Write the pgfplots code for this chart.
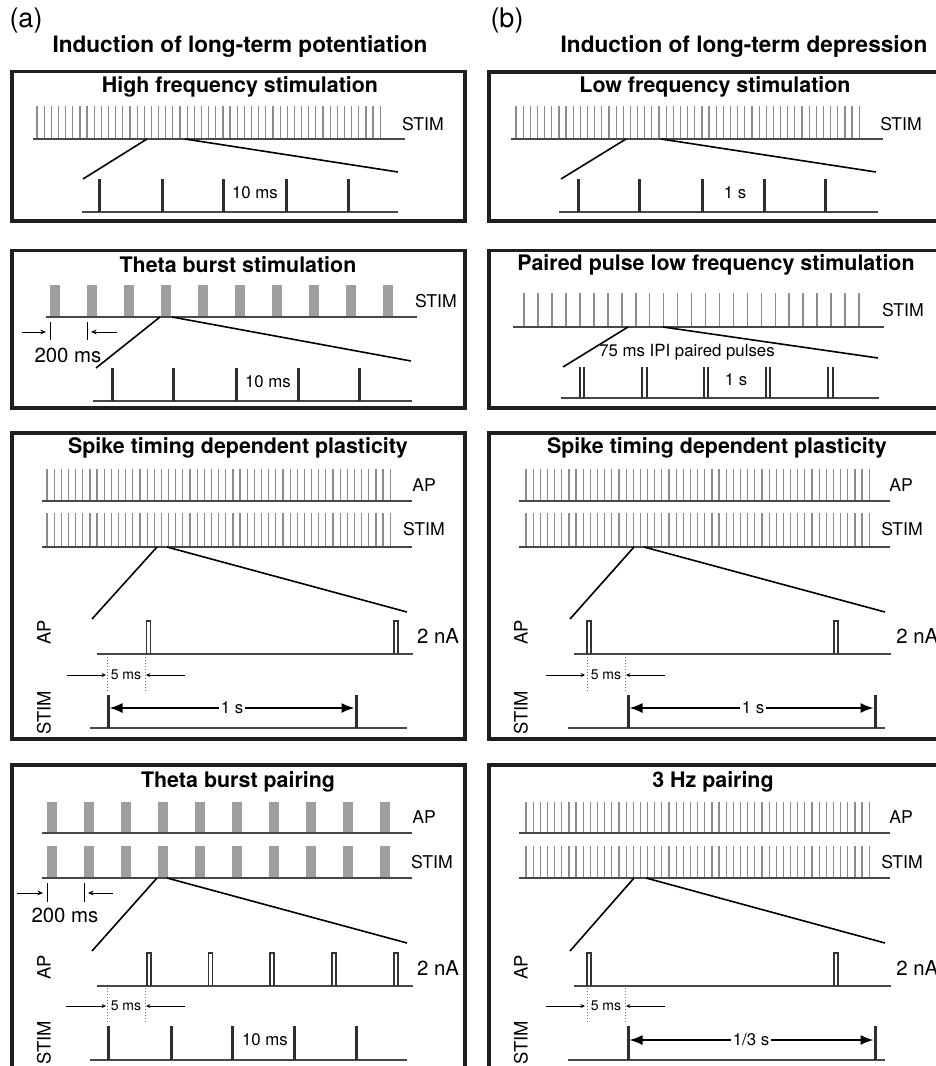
\documentclass[border=0pt]{standalone}
\usepackage{pgfplots}
\pgfplotsset{compat=1.18}
\usepackage{pgfplotstable}
\usepackage{fontspec}
\setmainfont{TeX Gyre Heros}
\usetikzlibrary{arrows.meta}

% regular pulse train (positions relative to train start, px)
\pgfplotstableread[row sep=\\]{x d\\0 0\\7.15 0\\14.3 0\\21.45 0\\28.6 0\\35.75 0\\42.9 0\\50.05 0\\57.2 0\\64.35 0\\71.5 0\\78.65 0\\85.8 0\\92.95 0\\100.1 0\\107.25 0\\114.4 0\\121.55 0\\128.7 0\\135.85 0\\143 0\\150.15 0\\157.3 0\\164.45 0\\171.6 0\\178.75 0\\185.9 0\\193.05 0\\200.2 0\\207.35 0\\214.5 0\\221.65 0\\228.8 0\\235.95 0\\243.1 0\\250.25 0\\257.4 0\\264.55 0\\271.7 0\\278.85 0\\286 0\\293.15 0\\300.3 0\\307.45 0\\314.6 0\\321.75 0\\328.9 0\\336.05 0\\343.2 0\\}\hf
% theta bursts (4 pulses per burst)
\pgfplotstableread[row sep=\\]{x d\\51.5 0\\54 0\\56.5 0\\59 0\\88.5 0\\91 0\\93.5 0\\96 0\\125.5 0\\128 0\\130.5 0\\133 0\\162.5 0\\165 0\\167.5 0\\170 0\\199.5 0\\202 0\\204.5 0\\207 0\\236.5 0\\239 0\\241.5 0\\244 0\\273.5 0\\276 0\\278.5 0\\281 0\\310.5 0\\313 0\\315.5 0\\318 0\\347.5 0\\350 0\\352.5 0\\355 0\\384.5 0\\387 0\\389.5 0\\392 0\\}\tb
% paired pulse low frequency train
\pgfplotstableread[row sep=\\]{x d\\524 0\\538 0\\551.9 0\\565.9 0\\579.8 0\\593.8 0\\607.8 0\\621.7 0\\635.7 0\\649.6 0\\663.6 0\\677.5 0\\691.5 0\\705.5 0\\719.4 0\\733.4 0\\747.3 0\\761.3 0\\775.3 0\\789.2 0\\803.2 0\\817.1 0\\831.1 0\\845 0\\859 0\\}\pp

\pgfplotsset{
  trn/.style={quiver={u=0,v=#1}, mark=none, color=black!45, line width=0.6pt},
  brst/.style={quiver={u=0,v=#1}, mark=none, color=black!38, line width=1.05pt},
  pls/.style={quiver={u=0,v=#1}, mark=none, color=black!82, line width=1.5pt},
  vln/.style={quiver={u=0,v=#1}, mark=none, color=black, line width=0.5pt},
  base/.style={mark=none, color=black!72, line width=0.85pt},
  zl/.style={mark=none, color=black, line width=0.8pt},
  box/.style={mark=none, color=black!88, line width=1.8pt, line join=miter},
  rct/.style={mark=none, color=black!80, line width=0.6pt, unbounded coords=jump},
  dots/.style={mark=none, color=black!55, line width=0.5pt, densely dotted, unbounded coords=jump},
  sar/.style={mark=none, color=black, line width=0.5pt, -{Stealth[length=2.8pt,width=2.4pt]}},
  ssar/.style={mark=none, color=black, line width=0.45pt, -{Stealth[length=2.2pt,width=2pt]}},
  dar/.style={mark=none, color=black, line width=0.8pt, {Latex[length=6.5pt,width=5pt]}-{Latex[length=6.5pt,width=5pt]}},
}
\tikzset{
  hdr/.style={font=\fontsize{11.3}{13}\selectfont\bfseries},
  ttl/.style={font=\fontsize{10.7}{12}\selectfont\bfseries},
  lbl/.style={font=\fontsize{8.8}{10}\selectfont},
  mid/.style={font=\fontsize{8.4}{10}\selectfont},
  vl/.style={font=\fontsize{9.2}{10}\selectfont, rotate=90},
  big/.style={font=\fontsize{10.2}{12}\selectfont},
  sml/.style={font=\fontsize{7}{8}\selectfont},
  pan/.style={font=\fontsize{13.5}{15}\selectfont},
}

\begin{document}
\begin{tikzpicture}
\begin{axis}[name=ax, scale only axis, width=468pt, height=533pt,
  xmin=0, xmax=936, ymin=0, ymax=1066, y dir=reverse, hide axis]

% ---------- headers ----------
\node[pan] at (26,21) {(a)};
\node[pan] at (507,21) {(b)};
\node[hdr] at (240,47) {Induction of long-term potentiation};
\node[hdr] at (744,47) {Induction of long-term depression};

% ---------- boxes ----------
\addplot[box] coordinates {(240,71.5)(465,71.5)(465,221)(12,221)(12,71.5)(240,71.5)};
\addplot[box] coordinates {(700,72)(950,72)(950,221)(489,221)(489,72)(700,72)};
\addplot[box] coordinates {(240,250.5)(465,250.5)(465,408)(12,408)(12,250.5)(240,250.5)};
\addplot[box] coordinates {(700,250.5)(950,250.5)(950,408)(489,408)(489,250.5)(700,250.5)};
\addplot[box] coordinates {(240,433)(465,433)(465,739)(12,739)(12,433)(240,433)};
\addplot[box] coordinates {(700,433)(950,433)(950,739)(489,739)(489,433)(700,433)};
\addplot[box] coordinates {(240,765)(465,765)(465,1090)(12,1090)(12,765)(240,765)};
\addplot[box] coordinates {(700,765)(950,765)(950,1090)(489,1090)(489,765)(700,765)};

% ---------- panel 1 left: high frequency stimulation ----------
\node[ttl] at (240,87) {High frequency stimulation};
\addplot[trn=-33] table[x expr=\thisrow{x}+37, y expr=139] \hf;
\addplot[base] coordinates {(33,139)(405,139)};
\node[lbl] at (423,124) {STIM};
\addplot[zl] coordinates {(147,139)(83,179)};
\addplot[zl] coordinates {(185,139)(398,172)};
\addplot[base] coordinates {(82,212)(398,212)};
\addplot[pls=-33] coordinates {(99,212)(162,212)(223,212)(286,212)(348,212)};
\node[mid] at (255,193) {10 ms};

% ---------- panel 1 right: low frequency stimulation ----------
\node[ttl] at (715,87) {Low frequency stimulation};
\addplot[trn=-33] table[x expr=\thisrow{x}+516, y expr=139] \hf;
\addplot[base] coordinates {(511,139)(883,139)};
\node[lbl] at (901,124) {STIM};
\addplot[zl] coordinates {(626,139)(561,179)};
\addplot[zl] coordinates {(661,139)(876,172)};
\addplot[base] coordinates {(559,212)(878,212)};
\addplot[pls=-33] coordinates {(578,212)(639,212)(702,212)(764,212)(825,212)};
\node[mid] at (735,193) {1 s};

% ---------- panel 2 left: theta burst stimulation ----------
\node[ttl] at (238,265) {Theta burst stimulation};
\addplot[brst=-32] table[x=x, y expr=317] \tb;
\addplot[base] coordinates {(46,317)(417,317)};
\node[lbl] at (436,301) {STIM};
\addplot[vln=18] coordinates {(50,322)(87,322)};
\addplot[sar] coordinates {(22,332)(46,332)};
\addplot[sar] coordinates {(117,332)(91,332)};
\node[big] at (68,355) {200 ms};
\addplot[zl] coordinates {(160,317)(96,368)};
\addplot[zl] coordinates {(172,317)(411,361)};
\addplot[base] coordinates {(93,401)(412,401)};
\addplot[pls=-33] coordinates {(112,401)(173,401)(236,401)(298,401)(359,401)};
\node[mid] at (268,382) {10 ms};

% ---------- panel 2 right: paired pulse LFS ----------
\node[ttl] at (716,265) {Paired pulse low frequency stimulation};
\addplot[trn=-34, line width=0.8pt] table[x=x, y expr=327] \pp;
\addplot[base] coordinates {(513,327)(884,327)};
\node[lbl] at (903,310) {STIM};
\addplot[zl] coordinates {(628,327)(563,367)};
\addplot[zl] coordinates {(663,327)(878,358)};
\node[mid] at (687,352) {75 ms IPI paired pulses};
\addplot[base] coordinates {(561,398)(879,398)};
\addplot[pls=-31, line width=1pt] coordinates {(579.5,398)(584,398)(642,398)(646.5,398)(703.5,398)(708,398)(765.5,398)(770,398)(828,398)(832.5,398)};
\node[mid] at (736,380) {1 s};

% ---------- panel 3 left: STDP (LTP) ----------
\node[ttl] at (238,448) {Spike timing dependent plasticity};
\addplot[trn=-32] table[x expr=\thisrow{x}+47, y expr=501] \hf;
\addplot[base] coordinates {(42,501)(412,501)};
\node[lbl] at (424,485) {AP};
\addplot[trn=-34] table[x expr=\thisrow{x}+47, y expr=547] \hf;
\addplot[base] coordinates {(42,547)(412,547)};
\node[lbl] at (424,529) {STIM};
\addplot[zl] coordinates {(157,547)(92,619)};
\addplot[zl] coordinates {(167,547)(407,612)};
\addplot[base] coordinates {(97,654)(413,654)};
\addplot[rct] coordinates {(146.5,654)(146.5,621)(150.5,621)(150.5,654)(150.5,nan)(394,654)(394,621)(398,621)(398,654)};
\node[vl] at (44,632) {AP};
\node[big] at (438,636) {2 nA};
\addplot[dots] coordinates {(107,657)(107,692)(107,nan)(145,657)(145,692)};
\addplot[ssar] coordinates {(67,675)(106,675)};
\addplot[ssar] coordinates {(185,675)(146,675)};
\node[sml] at (126,675) {5 ms};
\addplot[base] coordinates {(90,728)(407,728)};
\addplot[pls=-33] coordinates {(108,728)(356,728)};
\addplot[dar] coordinates {(109.5,708)(354.5,708)};
\node[mid, fill=white, inner sep=1pt] at (232,708) {1 s};
\node[vl] at (44,713) {STIM};

% ---------- panel 3 right: STDP (LTD) ----------
\node[ttl] at (717,448) {Spike timing dependent plasticity};
\addplot[trn=-32] table[x expr=\thisrow{x}+526, y expr=501] \hf;
\addplot[base] coordinates {(519,501)(890,501)};
\node[lbl] at (901,485) {AP};
\addplot[trn=-34] table[x expr=\thisrow{x}+526, y expr=547] \hf;
\addplot[base] coordinates {(519,547)(890,547)};
\node[lbl] at (902,529) {STIM};
\addplot[zl] coordinates {(634,547)(570,619)};
\addplot[zl] coordinates {(644,547)(885,612)};
\addplot[base] coordinates {(574,654)(891,654)};
\addplot[rct] coordinates {(587,654)(587,621)(591,621)(591,654)(591,nan)(834,654)(834,621)(838,621)(838,654)};
\node[vl] at (521,632) {AP};
\node[big, anchor=west, inner sep=0pt] at (896,636) {2 nA};
\addplot[dots] coordinates {(587,657)(587,692)(587,nan)(625,657)(625,692)};
\addplot[ssar] coordinates {(546,675)(585,675)};
\addplot[ssar] coordinates {(665,675)(626,675)};
\node[sml] at (606,675) {5 ms};
\addplot[base] coordinates {(568,728)(885,728)};
\addplot[pls=-33] coordinates {(628,728)(875,728)};
\addplot[dar] coordinates {(629.5,708)(873.5,708)};
\node[mid, fill=white, inner sep=1pt] at (753,708) {1 s};
\node[vl] at (521,713) {STIM};

% ---------- panel 4 left: theta burst pairing ----------
\node[ttl] at (238,782) {Theta burst pairing};
\addplot[brst=-31] table[x expr=\thisrow{x}-3, y expr=833] \tb;
\addplot[base] coordinates {(42,833)(412,833)};
\node[lbl] at (424,817) {AP};
\addplot[brst=-32] table[x expr=\thisrow{x}-3, y expr=878] \tb;
\addplot[base] coordinates {(42,878)(412,878)};
\node[lbl] at (432,862) {STIM};
\addplot[vln=19] coordinates {(47,883)(84,883)};
\addplot[sar] coordinates {(17,893)(43,893)};
\addplot[sar] coordinates {(113,893)(88,893)};
\node[big] at (65,915) {200 ms};
\addplot[zl] coordinates {(157,878)(92,951)};
\addplot[zl] coordinates {(167,878)(407,943)};
\addplot[base] coordinates {(97,986)(413,986)};
\addplot[rct] coordinates {(147,986)(147,953)(151,953)(151,986)(151,nan)(208.5,986)(208.5,953)(212.5,953)(212.5,986)(212.5,nan)(270,986)(270,953)(274,953)(274,986)(274,nan)(332,986)(332,953)(336,953)(336,986)(336,nan)(394,986)(394,953)(398,953)(398,986)};
\node[vl] at (44,967) {AP};
\node[big] at (438,968) {2 nA};
\addplot[dots] coordinates {(107,988)(107,1023)(107,nan)(145,988)(145,1023)};
\addplot[ssar] coordinates {(66,1006)(106,1006)};
\addplot[ssar] coordinates {(185,1006)(146,1006)};
\node[sml] at (126,1006) {5 ms};
\addplot[base] coordinates {(90,1060)(407,1060)};
\addplot[pls=-34] coordinates {(108,1060)(171,1060)(232,1060)(294,1060)(356,1060)};
\node[mid] at (265,1040) {10 ms};
\node[vl] at (44,1043) {STIM};

% ---------- panel 4 right: 3 Hz pairing ----------
\node[ttl] at (713,782) {3 Hz pairing};
\addplot[trn=-31] table[x expr=\thisrow{x}+526, y expr=833] \hf;
\addplot[base] coordinates {(519,833)(890,833)};
\node[lbl] at (901,817) {AP};
\addplot[trn=-32] table[x expr=\thisrow{x}+526, y expr=878] \hf;
\addplot[base] coordinates {(519,878)(890,878)};
\node[lbl] at (902,862) {STIM};
\addplot[zl] coordinates {(634,878)(570,951)};
\addplot[zl] coordinates {(646,878)(885,943)};
\addplot[base] coordinates {(574,986)(891,986)};
\addplot[rct] coordinates {(587,986)(587,953)(591,953)(591,986)(591,nan)(834,986)(834,953)(838,953)(838,986)};
\node[vl] at (521,967) {AP};
\node[big, anchor=west, inner sep=0pt] at (896,968) {2 nA};
\addplot[dots] coordinates {(587,988)(587,1023)(587,nan)(625,988)(625,1023)};
\addplot[ssar] coordinates {(546,1006)(585,1006)};
\addplot[ssar] coordinates {(665,1006)(626,1006)};
\node[sml] at (606,1006) {5 ms};
\addplot[base] coordinates {(568,1060)(885,1060)};
\addplot[pls=-34] coordinates {(628,1060)(875,1060)};
\addplot[dar] coordinates {(629.5,1040)(873.5,1040)};
\node[mid, fill=white, inner sep=1pt] at (751,1040) {1/3 s};
\node[vl] at (521,1043) {STIM};

\end{axis}
\pgfresetboundingbox
\path[use as bounding box] (ax.south west) rectangle (ax.north east);
\end{tikzpicture}
\end{document}
